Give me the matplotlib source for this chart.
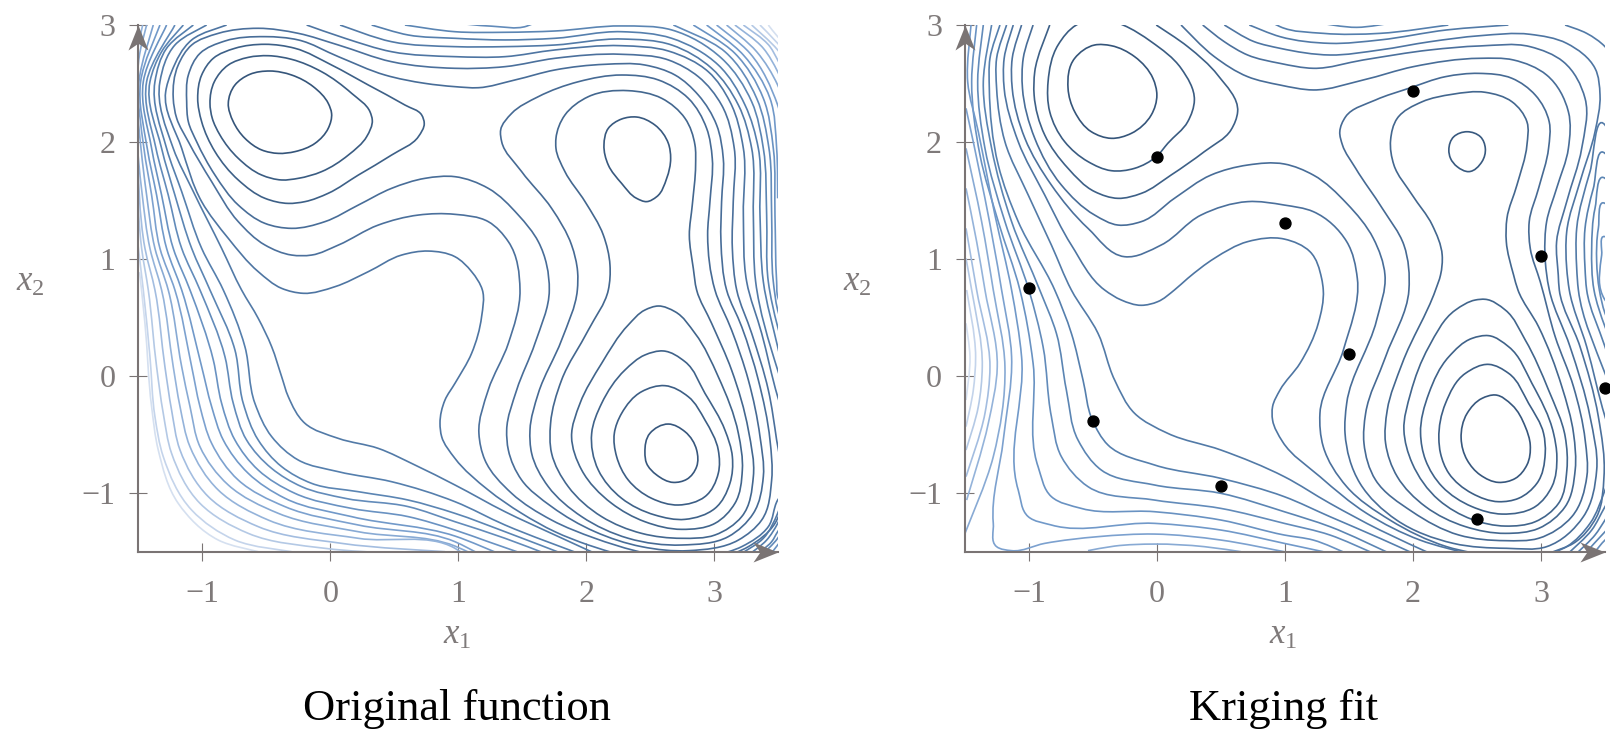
import matplotlib
matplotlib.use("Agg")
import matplotlib.pyplot as plt
import numpy as np
from matplotlib.colors import LinearSegmentedColormap
from matplotlib.patches import PathPatch
from matplotlib.path import Path

plt.rcParams["font.family"] = ["Liberation Serif", "DejaVu Serif"]
plt.rcParams["mathtext.fontset"] = "custom"
plt.rcParams["mathtext.rm"] = "Liberation Serif"
plt.rcParams["mathtext.it"] = "Liberation Serif:italic"

x_ticks = [-1, 0, 1, 2, 3]
y_ticks = [-1, 0, 1, 2, 3]
panel_titles = ["Original function", "Kriging fit"]

# sample points of the fit
sample_x = [-1, 0, 1, 2, 3, -0.5, 0.5, 1.5, 2.5, 3.5]
sample_y = [0.75, 1.875, 1.31, 2.44, 1.03, -0.38, -0.94, 0.19, -1.22, -0.1]

# contours, (x1, x2) pairs, inner wells first
l_well_a1 = [[(-.797,2.334),(-.745,2.49),(-.628,2.581),(-.471,2.609),(-.302,2.575),(-.133,2.476),(-.016,2.334),(.01,2.249),(-.016,2.122),(-.12,1.994),(-.276,1.924),(-.406,1.909),(-.536,1.938),(-.667,2.037),(-.758,2.178),(-.797,2.334)]]
l_well_a2 = [[(-.94,2.334),(-.906,2.518),(-.797,2.66),(-.641,2.725),(-.484,2.739),(-.302,2.708),(-.068,2.603),(.167,2.419),(.31,2.263),(.328,2.193),(.284,2.051),(.141,1.895),(-.068,1.754),(-.25,1.697),(-.38,1.683),(-.536,1.725),(-.719,1.867),(-.862,2.065),(-.922,2.207),(-.94,2.334)]]
l_well_a3 = [[(-1.036,2.377),(-1.005,2.575),(-.914,2.717),(-.745,2.802),(-.51,2.836),(-.276,2.802),(.01,2.66),(.297,2.49),(.583,2.32),(.714,2.235),(.734,2.164),(.688,2.051),(.479,1.895),(.219,1.725),(-.016,1.57),(-.198,1.499),(-.328,1.484),(-.51,1.527),(-.719,1.683),(-.901,1.924),(-1.005,2.178),(-1.036,2.377)]]
l_well_b1 = [[(2.458,-.634),(2.497,-.47),(2.641,-.391),(2.771,-.456),(2.862,-.612),(2.862,-.753),(2.784,-.861),(2.68,-.887),(2.55,-.824),(2.471,-.725),(2.458,-.634)]]
l_well_b2 = [[(2.219,-.47),(2.276,-.30),(2.432,-.116),(2.615,-.065),(2.797,-.159),(2.927,-.357),(3.031,-.612),(3.031,-.81),(2.927,-1.008),(2.719,-1.079),(2.51,-1.022),(2.328,-.867),(2.237,-.668),(2.219,-.47)]]
l_well_b3 = [[(2.042,-.47),(2.12,-.215),(2.302,.068),(2.458,.196),(2.602,.23),(2.771,.139),(2.927,-.13),(3.083,-.442),(3.141,-.668),(3.122,-.895),(3.005,-1.108),(2.771,-1.201),(2.536,-1.164),(2.276,-1.022),(2.094,-.782),(2.042,-.47)]]
l_well_b4 = [[(1.885,-.498),(1.951,-.215),(2.12,.125),(2.328,.451),(2.458,.578),(2.563,.612),(2.693,.564),(2.849,.38),(3.031,.011),(3.188,-.47),(3.219,-.782),(3.161,-1.065),(3.005,-1.235),(2.745,-1.286),(2.458,-1.221),(2.198,-1.065),(1.964,-.782),(1.885,-.498)]]
l_well_c1 = [[(2.138,1.98),(2.172,2.122),(2.276,2.201),(2.393,2.218),(2.536,2.15),(2.641,1.994),(2.659,1.867),(2.628,1.697),(2.55,1.541),(2.471,1.499),(2.393,1.527),(2.276,1.654),(2.172,1.81),(2.138,1.98)]]
l_c05 = [[(1.763,2.037),(1.833,2.235),(2.016,2.391),(2.328,2.442),(2.589,2.377),(2.771,2.207),(2.849,1.98),(2.854,1.81),(2.828,1.47),(2.805,1.215),(2.836,.932),(2.862,.748),(2.979,.465),(3.135,.068),(3.266,-.442),(3.305,-.838),(3.214,-1.178),(3.005,-1.334),(2.745,-1.362),(2.432,-1.32),(2.12,-1.178),(1.859,-.923),(1.729,-.64),(1.721,-.385),(1.807,-.017),(2.016,.408),(2.172,.748),(2.185,.96),(2.133,1.215),(1.99,1.499),(1.833,1.754),(1.763,1.952),(1.763,2.037)]]
l_c06 = [[(1.331,2.108),(1.417,2.249),(1.625,2.391),(1.938,2.518),(2.276,2.575),(2.563,2.533),(2.797,2.377),(2.94,2.122),(2.984,1.867),(2.966,1.499),(2.948,1.215),(3.005,.748),(3.135,.408),(3.266,-.017),(3.357,-.498),(3.383,-.838),(3.305,-1.15),(3.109,-1.348),(2.745,-1.419),(2.328,-1.362),(1.964,-1.178),(1.703,-.923),(1.573,-.64),(1.56,-.442),(1.625,-.13),(1.807,.323),(1.93,.748),(1.932,.904),(1.885,1.13),(1.729,1.442),(1.495,1.754),(1.339,2.008),(1.331,2.108)]]
l_c07 = [[(-1.122,2.348),(-1.109,2.575),(-1.018,2.759),(-.823,2.864),(-.51,2.901),(-.25,2.873),(.063,2.731),(.427,2.575),(.74,2.504),(.974,2.476),(1.156,2.467),(1.443,2.533),(1.755,2.618),(2.146,2.666),(2.458,2.66),(2.693,2.575),(2.875,2.405),(3.018,2.15),(3.07,1.867),(3.057,1.499),(3.052,1.159),(3.096,.748),(3.214,.436),(3.344,-.017),(3.435,-.527),(3.448,-.867),(3.37,-1.207),(3.188,-1.377),(2.797,-1.467),(2.432,-1.433),(2.068,-1.306),(1.729,-1.093),(1.495,-.867),(1.391,-.612),(1.378,-.442),(1.456,-.102),(1.599,.295),(1.711,.748),(1.625,1.159),(1.469,1.385),(1.234,1.612),(.974,1.711),(.74,1.697),(.479,1.612),(.219,1.47),(-.042,1.329),(-.302,1.272),(-.51,1.314),(-.719,1.47),(-.901,1.725),(-1.044,2.008),(-1.109,2.178),(-1.122,2.348)]]
l_c08 = [[(-1.227,2.377),(-1.188,2.66),(-1.083,2.83),(-.875,2.929),(-.563,2.972),(-.25,2.929),(.063,2.83),(.479,2.688),(.974,2.632),(1.365,2.646),(1.755,2.717),(2.276,2.751),(2.641,2.703),(2.875,2.561),(3.057,2.32),(3.156,1.952),(3.148,1.499),(3.141,1.102),(3.175,.748),(3.292,.38),(3.422,-.102),(3.487,-.527),(3.539,-.952),(3.474,-1.235),(3.266,-1.433),(2.797,-1.547),(2.38,-1.467),(2.068,-1.362),(1.729,-1.207),(1.417,-.98),(1.208,-.697),(1.161,-.47),(1.234,-.102),(1.391,.295),(1.482,.748),(1.391,1.159),(1.234,1.329),(.974,1.391),(.688,1.385),(.375,1.30),(.063,1.13),(-.146,1.045),(-.302,1.045),(-.51,1.13),(-.719,1.329),(-.927,1.669),(-1.109,2.008),(-1.2,2.207),(-1.227,2.377)]]
l_c09 = [[(-.81,3.0),(-1.083,2.873),(-1.24,2.603),(-1.286,2.433),(-1.161,1.952),(-1.005,1.499),(-.797,1.187),(-.563,.904),(-.38,.762),(-.211,.72),(.036,.776),(.297,.904),(.557,1.045),(.766,1.079),(.974,1.031),(1.104,.904),(1.188,.748),(1.182,.521),(1.104,.21),(.974,-.045),(.896,-.187),(.857,-.385),(.87,-.498),(.974,-.683),(1.234,-.952),(1.495,-1.15),(1.755,-1.306),(2.016,-1.419),(2.224,-1.49)],
         [(-.185,3.0),(.115,2.887),(.479,2.773),(.974,2.731),(1.365,2.731),(1.755,2.788),(2.276,2.824),(2.641,2.779),(2.953,2.603),(3.122,2.348),(3.227,1.952),(3.227,1.385),(3.253,.819),(3.37,.38),(3.495,-.158),(3.55,-.35)],
         [(3.55,-.95),(3.495,-1.037),(3.422,-1.263),(3.214,-1.433),(3.031,-1.504)]]
l_c10 = [[(-.966,3.0),(-1.214,2.83),(-1.331,2.518),(-1.227,1.952),(-1.07,1.584),(-.849,1.102),(-.693,.748),(-.563,.507),(-.458,.266),(-.38,.011),(-.328,-.159),(-.198,-.385),(.063,-.513),(.375,-.598),(.661,-.739),(.974,-.909),(1.365,-1.136),(1.755,-1.334),(2.068,-1.49)],
         [(.076,3.0),(.479,2.858),(.974,2.816),(1.365,2.816),(1.755,2.83),(2.276,2.881),(2.667,2.83),(2.979,2.632),(3.188,2.32),(3.292,1.952),(3.305,1.385),(3.323,.819),(3.495,.068),(3.53,-.05)],
         [(3.53,-1.05),(3.495,-1.15),(3.383,-1.362),(3.214,-1.49)]]
l_c11 = [[(-1.07,3.0),(-1.279,2.802),(-1.37,2.518),(-1.279,1.952),(-1.161,1.584),(-1.005,1.102),(-.836,.748),(-.667,.266),(-.589,-.215),(-.458,-.498),(-.25,-.697),(.063,-.796),(.479,-.881),(.974,-1.051),(1.365,-1.249),(1.938,-1.49)],
         [(.323,3.0),(.609,2.915),(.974,2.887),(1.365,2.873),(1.755,2.887),(2.276,2.943),(2.667,2.887),(3.031,2.66),(3.24,2.32),(3.344,1.952),(3.357,1.385),(3.383,.819),(3.495,.266),(3.53,.1)],
         [(3.53,-1.15),(3.495,-1.235),(3.409,-1.377),(3.266,-1.504)]]
l_c12 = [[(-1.148,3.0),(-1.318,2.773),(-1.409,2.518),(-1.318,1.952),(-1.214,1.555),(-1.083,1.102),(-.94,.748),(-.745,.238),(-.68,-.215),(-.563,-.527),(-.38,-.753),(-.146,-.895),(.219,-.966),(.609,-1.037),(.974,-1.15),(1.365,-1.306),(1.807,-1.49)],
         [(.583,3.0),(.974,2.943),(1.365,2.938),(1.755,2.949),(2.276,2.992),(2.667,2.958),(3.057,2.717),(3.292,2.348),(3.383,1.952),(3.409,1.385),(3.422,.819),(3.495,.436),(3.53,.3)],
         [(3.53,-1.25),(3.495,-1.306),(3.448,-1.391),(3.318,-1.504)]]
l_c13 = [[(-1.214,3.0),(-1.435,2.518),(-1.362,1.952),(-1.266,1.555),(-1.161,1.102),(-1.018,.748),(-.823,.181),(-.758,-.215),(-.654,-.527),(-.458,-.768),(-.224,-.923),(.115,-1.022),(.609,-1.093),(.974,-1.221),(1.365,-1.362),(1.677,-1.49)],
         [(.95,3.02),(1.26,2.99),(1.534,2.99),(1.6,3.02)],
         [(2.68,3.0),(3.083,2.773),(3.331,2.377),(3.427,1.952),(3.448,1.385),(3.461,.819),(3.495,.578),(3.53,.45)],
         [(3.53,-1.3),(3.495,-1.362),(3.37,-1.504)]]
l_c14 = [[(-1.279,3.0),(-1.461,2.518),(-1.396,1.952),(-1.318,1.555),(-1.227,1.102),(-1.096,.748),(-.914,.153),(-.849,-.215),(-.745,-.527),(-.563,-.782),(-.276,-.98),(.167,-1.108),(.609,-1.178),(.974,-1.292),(1.234,-1.391),(1.495,-1.49)],
         [(2.836,3.0),(3.161,2.759),(3.383,2.377),(3.461,1.952),(3.474,1.385),(3.487,.819),(3.495,.691),(3.53,.6)],
         [(3.53,-1.37),(3.495,-1.419),(3.435,-1.504)]]
l_c15 = [[(-1.331,3.0),(-1.482,2.518),(-1.43,1.952),(-1.357,1.555),(-1.279,1.102),(-1.161,.748),(-1.005,.096),(-.927,-.243),(-.836,-.527),(-.641,-.81),(-.354,-1.022),(.167,-1.178),(.974,-1.343),(1.312,-1.49)],
         [(2.94,3.0),(3.227,2.745),(3.435,2.377),(3.487,1.952),(3.495,1.527)]]
l_c16 = [[(-1.383,3.0),(-1.495,2.518),(-1.456,1.952),(-1.396,1.555),(-1.331,1.102),(-1.214,.748),(-1.083,.096),(-1.018,-.243),(-.927,-.555),(-.719,-.867),(-.354,-1.093),(.219,-1.249),(.974,-1.391),(1.156,-1.49)],
         [(3.018,3.0),(3.279,2.759),(3.495,2.32),(3.53,2.2)]]
l_c17 = [[(-1.435,3.0),(-1.49,2.75),(-1.51,2.4),(-1.479,1.952),(-1.435,1.555),(-1.37,1.102),(-1.266,.748),(-1.161,.096),(-1.096,-.243),(-1.018,-.584),(-.797,-.909),(-.406,-1.15),(.219,-1.306),(.974,-1.428),(1.1,-1.49)],
         [(3.096,3.0),(3.331,2.773),(3.495,2.49),(3.53,2.4)]]
l_c18 = [[(-1.466,3.0),(-1.52,2.7),(-1.52,2.2),(-1.469,1.555),(-1.409,1.102),(-1.318,.748),(-1.227,.096),(-1.174,-.243),(-1.096,-.584),(-.875,-.952),(-.484,-1.207),(.219,-1.362),(.974,-1.447),(1.05,-1.5)],
         [(3.161,3.0),(3.383,2.802),(3.495,2.603),(3.53,2.52)]]
l_c19 = [[(-1.51,1.9),(-1.448,1.102),(-1.37,.748),(-1.292,.096),(-1.24,-.272),(-1.174,-.612),(-.953,-1.008),(-.563,-1.263),(.089,-1.405),(.896,-1.476)],
         [(3.227,3.0),(3.435,2.816),(3.495,2.703),(3.53,2.63)]]
l_c20 = [[(-1.51,1.6),(-1.474,1.102),(-1.422,.748),(-1.357,.096),(-1.305,-.30),(-1.24,-.64),(-1.018,-1.065),(-.641,-1.32),(-.042,-1.447),(.479,-1.49)],
         [(3.292,3.0),(3.495,2.788),(3.53,2.74)]]
l_c21 = [[(-1.51,1.2),(-1.461,.748),(-1.409,.181),(-1.37,-.328),(-1.305,-.668),(-1.083,-1.122),(-.745,-1.377),(-.302,-1.476)],
         [(3.357,3.0),(3.495,2.844),(3.53,2.8)]]
l_c22 = [[(-1.49,.9),(-1.448,.465),(-1.396,-.243),(-1.344,-.612),(-1.188,-1.065),(-.875,-1.377),(-.563,-1.476)],
         [(3.422,3.0),(3.495,2.901),(3.53,2.86)]]

r_well_a1 = [[(-.695,2.462),(-.643,2.717),(-.487,2.83),(-.357,2.824),(-.175,2.731),(-.032,2.547),(-.001,2.405),(-.045,2.235),(-.201,2.079),(-.357,2.037),(-.513,2.093),(-.643,2.263),(-.695,2.462)]]
r_well_a2 = [[(-.266,3.0),(-.045,2.858),(.188,2.632),(.292,2.363),(.24,2.178),(.084,1.994),(-.006,1.881),(-.175,1.782),(-.357,1.762),(-.539,1.839),(-.721,2.008),(-.838,2.263),(-.851,2.518),(-.773,2.83),(-.63,3.0),(-.448,3.06),(-.266,3.0)]]
r_well_a3 = [[(-.006,3.0),(.24,2.816),(.474,2.575),(.63,2.263),(.578,2.108),(.37,1.924),(.11,1.725),(-.123,1.569),(-.305,1.527),(-.487,1.584),(-.695,1.782),(-.877,2.065),(-.96,2.405),(-.955,2.603),(-.838,3.0)]]
r_well_b1 = [[(2.376,-.513),(2.423,-.30),(2.539,-.173),(2.643,-.144),(2.773,-.229),(2.877,-.413),(2.916,-.569),(2.89,-.739),(2.799,-.853),(2.669,-.887),(2.526,-.824),(2.423,-.697),(2.376,-.513)]]
r_well_b2 = [[(2.202,-.513),(2.254,-.215),(2.41,.04),(2.591,.116),(2.747,.04),(2.903,-.215),(3.02,-.47),(3.033,-.64),(2.968,-.895),(2.825,-1.022),(2.669,-1.051),(2.461,-.98),(2.28,-.81),(2.215,-.64),(2.202,-.513)]]
r_well_b3 = [[(2.059,-.47),(2.124,-.13),(2.28,.181),(2.461,.337),(2.591,.36),(2.747,.266),(2.929,-.045),(3.098,-.47),(3.124,-.668),(3.085,-.923),(2.955,-1.093),(2.695,-1.156),(2.461,-1.093),(2.228,-.923),(2.098,-.697),(2.059,-.47)]]
r_well_b4 = [[(1.929,-.442),(1.981,-.13),(2.124,.266),(2.332,.578),(2.487,.663),(2.565,.669),(2.721,.578),(2.877,.323),(3.059,-.102),(3.189,-.498),(3.202,-.782),(3.137,-1.065),(2.955,-1.221),(2.721,-1.258),(2.461,-1.201),(2.202,-1.037),(1.994,-.725),(1.929,-.442)]]
r_well_c1 = [[(2.28,1.938),(2.319,2.051),(2.423,2.093),(2.526,2.051),(2.565,1.952),(2.539,1.839),(2.436,1.754),(2.345,1.796),(2.293,1.867),(2.28,1.938)]]
r_c05 = [[(1.825,2.023),(1.877,2.207),(2.072,2.348),(2.306,2.411),(2.565,2.428),(2.773,2.348),(2.89,2.178),(2.89,1.98),(2.812,1.64),(2.734,1.357),(2.729,1.159),(2.786,.875),(2.82,.748),(2.981,.436),(3.163,-.074),(3.254,-.47),(3.267,-.782),(3.189,-1.093),(2.981,-1.278),(2.721,-1.32),(2.41,-1.263),(2.098,-1.093),(1.877,-.838),(1.786,-.555),(1.799,-.272),(1.916,.125),(2.176,.748),(2.215,.875),(2.228,1.045),(2.15,1.301),(1.994,1.555),(1.851,1.81),(1.825,2.023)]]
r_c06 = [[(1.428,2.093),(1.474,2.221),(1.708,2.363),(1.968,2.462),(2.254,2.561),(2.513,2.589),(2.773,2.547),(2.955,2.405),(3.064,2.178),(3.059,1.952),(2.981,1.612),(2.908,1.329),(2.916,1.102),(2.994,.819),(3.111,.351),(3.254,-.074),(3.345,-.527),(3.358,-.838),(3.241,-1.178),(2.981,-1.362),(2.721,-1.382),(2.358,-1.334),(1.994,-1.136),(1.708,-.867),(1.617,-.555),(1.63,-.30),(1.786,.181),(1.968,.748),(1.929,1.13),(1.76,1.442),(1.552,1.782),(1.449,1.98),(1.428,2.093)]]
r_c07 = [[(-.968,3.0),(-1.045,2.717),(-1.051,2.462),(-.955,2.037),(-.747,1.64),(-.487,1.385),(-.305,1.30),(-.123,1.329),(.136,1.527),(.422,1.725),(.708,1.81),(.994,1.819),(1.221,1.725),(1.482,1.484),(1.69,1.187),(1.781,.875),(1.716,.493),(1.482,-.215),(1.469,-.47),(1.586,-.895),(1.872,-1.207),(2.315,-1.405),(2.732,-1.447),(3.044,-1.433),(3.331,-1.178),(3.435,-.782),(3.383,-.328),(3.227,.266),(3.065,.748),(3.031,1.045),(3.044,1.329),(3.122,1.612),(3.214,1.952),(3.214,2.263),(3.044,2.575),(2.784,2.703),(2.523,2.717),(2.003,2.646),(1.612,2.533),(1.221,2.448),(.961,2.49),(.708,2.561),(.448,2.731),(.188,3.0)]]
r_c08 = [[(-1.058,3.0),(-1.131,2.717),(-1.131,2.462),(-1.032,2.037),(-.825,1.64),(-.539,1.272),(-.253,1.031),(.032,1.13),(.344,1.385),(.708,1.499),(.994,1.47),(1.221,1.414),(1.482,1.159),(1.565,.847),(1.456,.238),(1.273,-.30),(1.299,-.583),(1.482,-.923),(1.82,-1.207),(2.263,-1.433),(2.628,-1.518)],
         [(3.096,-1.476),(3.253,-1.405),(3.435,-1.178),(3.492,-.838),(3.448,-.328),(3.305,.266),(3.143,.748),(3.135,.875),(3.122,1.159),(3.201,1.499),(3.318,1.952),(3.344,2.377),(3.174,2.688),(2.914,2.816),(2.523,2.822),(2.133,2.788),(1.612,2.703),(1.221,2.632),(.961,2.674),(.708,2.745),(.526,2.858),(.357,3.0)]]
r_c09 = [[(-1.123,3.0),(-1.194,2.717),(-1.194,2.462),(-1.084,2.008),(-.877,1.555),(-.669,1.13),(-.409,.748),(-.279,.663),(-.123,.618),(.006,.649),(.136,.748),(.24,.847),(.448,1.017),(.708,1.159),(.994,1.181),(1.195,1.074),(1.286,.847),(1.299,.748),(1.26,.465),(1.117,.125),(.961,-.102),(.903,-.243),(.903,-.357),(.981,-.541),(1.273,-.838),(1.638,-1.15),(2.055,-1.377),(2.419,-1.49)],
         [(3.044,-1.504),(3.2,-1.433),(3.383,-1.235),(3.5,-.952),(3.55,-.8)],
         [(3.55,-.5),(3.5,-.328),(3.357,.266),(3.221,.748),(3.201,.932),(3.201,1.244),(3.305,1.669),(3.422,2.093),(3.461,2.405),(3.422,2.632),(3.201,2.844),(2.914,2.921),(2.523,2.909),(2.133,2.858),(1.742,2.788),(1.352,2.745),(.961,2.802),(.76,2.858),(.526,3.0)]]
r_c10 = [[(-1.175,3.0),(-1.253,2.717),(-1.253,2.462),(-1.188,2.008),(-1.006,1.555),(-.825,1.13),(-.669,.748),(-.461,.38),(-.331,-.017),(-.175,-.30),(.084,-.47),(.5,-.612),(.994,-.838),(1.351,-1.065),(1.742,-1.292),(2.133,-1.49)],
         [(2.745,3.0),(2.263,2.958),(1.742,2.873),(1.352,2.844),(.961,2.901),(.721,3.0)],
         [(3.188,3.0),(3.357,2.929),(3.5,2.816),(3.55,2.75)],
         [(3.55,2.0),(3.5,2.15),(3.383,1.754),(3.279,1.272),(3.279,.932),(3.292,.748),(3.5,.04),(3.55,-.1)],
         [(3.55,-1.0),(3.5,-1.093),(3.396,-1.292),(3.227,-1.476)]]
r_c11 = [[(-1.227,3.0),(-1.305,2.717),(-1.31,2.462),(-1.24,1.81),(-1.084,1.329),(-.799,.748),(-.669,.38),(-.578,-.017),(-.505,-.357),(-.383,-.569),(-.019,-.739),(.5,-.853),(.994,-1.008),(1.351,-1.178),(1.742,-1.362),(1.974,-1.476)],
         [(2.276,3.0),(1.742,2.929),(1.3,2.929),(.961,2.986),(.9,3.02)],
         [(3.55,1.75),(3.5,1.909),(3.409,1.612),(3.344,1.272),(3.344,.932),(3.357,.748),(3.5,.266),(3.55,.1)],
         [(3.55,-1.12),(3.5,-1.207),(3.422,-1.334),(3.292,-1.476)]]
r_c12 = [[(-1.292,3.0),(-1.357,2.518),(-1.292,1.952),(-1.136,1.329),(-.916,.748),(-.786,.38),(-.708,-.102),(-.617,-.527),(-.435,-.782),(-.019,-.909),(.5,-.98),(.994,-1.136),(1.351,-1.263),(1.818,-1.49)],
         [(1.25,3.02),(1.56,2.98),(1.85,3.02)],
         [(3.55,1.55),(3.5,1.697),(3.422,1.442),(3.396,1.102),(3.414,.748),(3.5,.436),(3.55,.3)],
         [(3.55,-1.25),(3.5,-1.306),(3.357,-1.476)]]
r_c13 = [[(-1.357,3.0),(-1.401,2.518),(-1.344,1.952),(-1.188,1.329),(-1.001,.748),(-.89,.266),(-.825,-.328),(-.747,-.668),(-.539,-.923),(-.019,-1.037),(.5,-1.108),(.994,-1.235),(1.351,-1.334),(1.664,-1.476)],
         [(3.55,1.35),(3.5,1.484),(3.448,1.272),(3.435,.989),(3.456,.748),(3.5,.55),(3.55,.42)],
         [(3.55,-1.33),(3.5,-1.377),(3.422,-1.476)]]
r_c14 = [[(-1.409,3.0),(-1.448,2.518),(-1.383,1.895),(-1.24,1.329),(-1.071,.748),(-.968,.125),(-.929,-.753),(-.825,-1.008),(-.591,-1.108),(-.019,-1.136),(.5,-1.207),(.994,-1.334),(1.221,-1.377),(1.481,-1.49)],
         [(3.55,1.1),(3.5,1.201),(3.474,1.045),(3.48,.705),(3.5,.663),(3.55,.6)]]
r_c15 = [[(-1.453,3.0),(-1.479,2.518),(-1.396,2.093),(-1.266,1.385),(-1.136,.748),(-1.058,.181),(-1.084,-.952),(-1.006,-1.178),(-.825,-1.249),(-.019,-1.235),(.5,-1.292),(.994,-1.405),(1.299,-1.476)]]
r_c16 = [[(-1.492,2.292),(-1.344,1.527),(-1.214,.748),(-1.136,.181),(-1.201,-.527),(-1.279,-1.235),(-1.253,-1.433),(-1.136,-1.467),(-.877,-1.405),(-.461,-1.348),(-.019,-1.326),(.5,-1.377),(.994,-1.476)]]
r_c17 = [[(-1.492,1.952),(-1.37,1.329),(-1.279,.748),(-1.188,.096),(-1.279,-.668),(-1.5,-1.32)],
         [(-.539,-1.467),(-.331,-1.428),(-.019,-1.411),(.37,-1.433),(.656,-1.476)]]
r_c18 = [[(-1.492,1.612),(-1.409,1.159),(-1.344,.748),(-1.248,.096),(-1.318,-.385),(-1.487,-1.037)]]
r_c19 = [[(-1.492,1.272),(-1.409,.748),(-1.305,.096),(-1.344,-.30),(-1.492,-.838)]]
r_c20 = [[(-1.492,1.017),(-1.448,.748),(-1.365,.096),(-1.396,-.243),(-1.492,-.612)]]
r_c21 = [[(-1.487,.748),(-1.417,.181),(-1.435,-.102),(-1.492,-.413)]]
r_c22 = [[(-1.492,.465),(-1.461,.181),(-1.492,-.187)]]

left_levels = [l_well_a1, l_well_b1, l_well_c1, l_well_a2, l_well_b2, l_well_a3, l_well_b3, l_well_b4,
               l_c05, l_c06, l_c07, l_c08, l_c09, l_c10, l_c11, l_c12, l_c13, l_c14, l_c15, l_c16,
               l_c17, l_c18, l_c19, l_c20, l_c21, l_c22]
right_levels = [r_well_a1, r_well_b1, r_well_c1, r_well_a2, r_well_b2, r_well_a3, r_well_b3, r_well_b4,
                r_c05, r_c06, r_c07, r_c08, r_c09, r_c10, r_c11, r_c12, r_c13, r_c14, r_c15, r_c16,
                r_c17, r_c18, r_c19, r_c20, r_c21, r_c22]

contour_cmap = LinearSegmentedColormap.from_list(
    "contours", ["#35557a", "#3b5d84", "#41658c", "#4a6f9b", "#5680ae", "#6f97c8", "#98b6dc", "#d5e0f0"])
axis_color = "#7a7474"
text_color = "#7f7a7a"

# traced y values run slightly short of the axis at the bottom
Y_READ = 1.0054


def smooth_path(points):
    # spline through the traced points, handles follow the chord length
    p = np.array(points, dtype=float)
    p[:, 1] = 3 - (3 - p[:, 1]) * Y_READ
    if np.allclose(p[0], p[-1]):
        q = np.vstack([p[-2], p, p[1]])
    else:
        q = np.vstack([p[0], p, p[-1]])
    n = len(q)
    tang = np.zeros_like(q)
    for i in range(1, n - 1):
        a = np.hypot(*(q[i] - q[i - 1])) + 1e-9
        b = np.hypot(*(q[i + 1] - q[i])) + 1e-9
        t = (q[i] - q[i - 1]) / a * b + (q[i + 1] - q[i]) / b * a
        tang[i] = t / (np.hypot(*t) + 1e-9)
    verts = [q[1]]
    codes = [Path.MOVETO]
    for i in range(1, n - 2):
        d = np.hypot(*(q[i + 1] - q[i])) / 3
        verts += [q[i] + tang[i] * d, q[i + 1] - tang[i + 1] * d, q[i + 1]]
        codes += [Path.CURVE4] * 3
    return Path(verts, codes)


def draw_panel(ax, levels, title):
    ax.set_xlim(-1.5, 3.5)
    ax.set_ylim(-1.5, 3)
    for i, level in enumerate(levels):
        color = contour_cmap(i / (len(levels) - 1))
        for seg in level:
            ax.add_patch(PathPatch(smooth_path(seg), fill=False, ec=color, lw=1.2, zorder=2))
    for side in ["top", "right"]:
        ax.spines[side].set_visible(False)
    for side in ["left", "bottom"]:
        ax.spines[side].set_color(axis_color)
        ax.spines[side].set_linewidth(1.5)
    ax.set_xticks(x_ticks)
    ax.set_yticks(y_ticks)
    ax.set_xticklabels([f"\u2212{abs(t)}" if t < 0 else str(t) for t in x_ticks])
    ax.set_yticklabels([f"\u2212{abs(t)}" if t < 0 else str(t) for t in y_ticks])
    ax.tick_params(axis="x", direction="inout", length=13, width=0.8, color=axis_color,
                   labelcolor=text_color, labelsize=23, pad=14)
    ax.tick_params(axis="y", direction="inout", length=13, width=0.8, color=axis_color,
                   labelcolor=text_color, labelsize=23, pad=10)
    up = Path([(0, 0), (-.8, -2), (0, -1.45), (.8, -2), (0, 0)], closed=True)
    across = Path([(0, 0), (-2, .8), (-1.45, 0), (-2, -.8), (0, 0)], closed=True)
    ax.plot([-1.5], [3], marker=up, ms=36, mfc=axis_color, mec="none", clip_on=False, zorder=5)
    ax.plot([3.5], [-1.5], marker=across, ms=36, mfc=axis_color, mec="none", clip_on=False, zorder=5)
    ax.text(0.498, -0.158, "$x_1$", transform=ax.transAxes, ha="center", va="center",
            color=text_color, fontsize=25)
    ax.text(-0.168, 0.512, "$x_2$", transform=ax.transAxes, ha="center", va="center",
            color=text_color, fontsize=25)
    ax.text(0.498, -0.298, title, transform=ax.transAxes, ha="center", va="center",
            color="black", fontsize=32)


fig = plt.figure(figsize=(16.10, 7.43), dpi=100)
ax_left = fig.add_axes([138.3 / 1610, 1 - 551.7 / 743, 640 / 1610, 526.7 / 743])
ax_right = fig.add_axes([965 / 1610, 1 - 551.7 / 743, 640 / 1610, 526.7 / 743])

draw_panel(ax_left, left_levels, panel_titles[0])
draw_panel(ax_right, right_levels, panel_titles[1])
ax_right.scatter(sample_x, sample_y, s=62, c="black", clip_on=False, zorder=6)

fig.savefig("out.png", dpi=100)
